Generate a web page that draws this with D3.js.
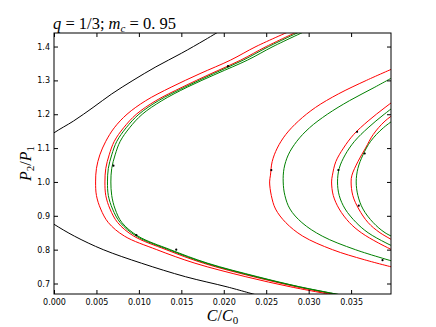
<!DOCTYPE html>
<html lang="en">
<head>
<meta charset="UTF-8">
<title>q = 1/3; m_c = 0.95</title>
<script src="https://d3js.org/d3.v7.min.js"></script>
<style>
  body { margin: 0; background: #fff; }
  svg { display: block; }
  .tick text { font-family: "DejaVu Sans", sans-serif; font-size: 8px; fill: #000; }
  .math { font-family: "Liberation Serif", "DejaVu Serif", serif; fill: #000; }
</style>
</head>
<body>
<svg id="chart" width="436" height="327"></svg>
<script>
// ---- data (P2/P1 vs C/C0) ----
const xTicks = [0, 0.005, 0.010, 0.015, 0.020, 0.025, 0.030, 0.035];
const yTicks = [0.7, 0.8, 0.9, 1.0, 1.1, 1.2, 1.3, 1.4];

// black curve, two arms (vertex lies left of C = 0)
const blackUpP = [1.11, 1.145, 1.18, 1.22, 1.26, 1.30, 1.34, 1.38, 1.42, 1.45];
const blackUpC = [-0.0018, 0.0000, 0.0023, 0.0046, 0.0068, 0.0093, 0.0120, 0.0150, 0.0178, 0.0198];
const blackLoP = [0.905, 0.875, 0.84, 0.80, 0.76, 0.72, 0.69, 0.665];
const blackLoC = [-0.0018, 0.0000, 0.0024, 0.0058, 0.0103, 0.0155, 0.0204, 0.0240];

// left group (vertex near C = 0.005 .. 0.007)
const leftP   = [1.45, 1.40, 1.36, 1.32, 1.28, 1.24, 1.20, 1.16, 1.12, 1.08, 1.04, 1.00, 0.96, 0.92, 0.88, 0.84, 0.80, 0.76, 0.72, 0.69, 0.665];
const leftR1C = [0.0282, 0.0238, 0.0208, 0.0172, 0.0138, 0.0108, 0.0086, 0.0071, 0.0061, 0.0054, 0.0050, 0.0049, 0.0050, 0.0055, 0.0064, 0.0083, 0.0121, 0.0166, 0.0226, 0.0279, 0.0332];
const leftR2C = [0.0292, 0.0250, 0.0220, 0.0185, 0.0151, 0.0120, 0.0097, 0.0082, 0.0071, 0.0065, 0.0061, 0.0060, 0.0061, 0.0066, 0.0075, 0.0094, 0.0132, 0.0176, 0.0235, 0.0286, 0.0337];
const leftG1C = [0.0295, 0.0253, 0.0223, 0.0188, 0.0154, 0.0123, 0.0100, 0.0085, 0.0074, 0.0068, 0.0064, 0.0063, 0.0064, 0.0069, 0.0078, 0.0097, 0.0135, 0.0179, 0.0238, 0.0289, 0.0340];
const leftG2C = [0.0300, 0.0258, 0.0228, 0.0192, 0.0157, 0.0127, 0.0104, 0.0089, 0.0078, 0.0072, 0.0068, 0.0067, 0.0068, 0.0072, 0.0080, 0.0099, 0.0137, 0.0181, 0.0240, 0.0290, 0.0341];

// middle pair
const midRP = [1.34, 1.30, 1.26, 1.22, 1.18, 1.14, 1.10, 1.06, 1.02, 1.00, 0.96, 0.92, 0.88, 0.84, 0.80, 0.77, 0.745];
const midRC = [0.0404, 0.0368, 0.0335, 0.0308, 0.0288, 0.0273, 0.0263, 0.0257, 0.0255, 0.0254, 0.0256, 0.0261, 0.0273, 0.0293, 0.0328, 0.0366, 0.0404];
const midGP = [1.32, 1.28, 1.24, 1.20, 1.16, 1.12, 1.08, 1.04, 1.00, 0.96, 0.92, 0.88, 0.84, 0.80, 0.76];
const midGC = [0.0407, 0.0378, 0.0348, 0.0322, 0.0301, 0.0286, 0.0276, 0.0271, 0.0270, 0.0272, 0.0278, 0.0292, 0.0316, 0.0355, 0.0407];

// right group
const rightR1P = [1.25, 1.22, 1.18, 1.14, 1.10, 1.06, 1.02, 1.00, 0.96, 0.92, 0.88, 0.85, 0.82, 0.79];
const rightR1C = [0.0406, 0.0390, 0.0370, 0.0353, 0.0341, 0.0332, 0.0328, 0.0327, 0.0329, 0.0336, 0.0348, 0.0362, 0.0382, 0.0406];
const rightG1P = [1.24, 1.20, 1.16, 1.12, 1.08, 1.04, 1.00, 0.96, 0.92, 0.88, 0.85, 0.82, 0.80];
const rightG1C = [0.0410, 0.0389, 0.0370, 0.0354, 0.0343, 0.0336, 0.0334, 0.0336, 0.0343, 0.0356, 0.0370, 0.0391, 0.0408];
const rightR2P = [1.22, 1.18, 1.14, 1.10, 1.06, 1.02, 1.00, 0.96, 0.92, 0.88, 0.85, 0.82];
const rightR2C = [0.0412, 0.0390, 0.0376, 0.0367, 0.0358, 0.0351, 0.0350, 0.0352, 0.0359, 0.0370, 0.0384, 0.0405];
const rightG2P = [1.20, 1.16, 1.12, 1.08, 1.04, 1.00, 0.96, 0.92, 0.88, 0.85, 0.83];
const rightG2C = [0.0410, 0.0388, 0.0373, 0.0364, 0.0358, 0.0356, 0.0358, 0.0364, 0.0376, 0.0390, 0.0406];

// small black markers on the curves
const dotC = [0.0070, 0.0097, 0.0144, 0.0205, 0.0256, 0.0335, 0.0357, 0.0366, 0.0359, 0.0387];
const dotP = [1.048, 0.843, 0.800, 1.342, 1.035, 1.035, 1.148, 1.084, 0.930, 0.769];

// ---- layout ----
const svg = d3.select("#chart");
const box = {left: 54, right: 391, top: 33, bottom: 294};

const x = d3.scaleLinear().domain([0, 0.0397]).range([box.left, box.right]);
const y = d3.scaleLinear().domain([0.669, 1.440]).range([box.bottom, box.top]);

svg.append("defs").append("clipPath").attr("id", "clip")
  .append("rect").attr("x", box.left).attr("y", box.top)
  .attr("width", box.right - box.left).attr("height", box.bottom - box.top);

const zip = (ps, cs) => ps.map((p, i) => ({p: p, c: cs[i]}));

const series = [
  {color: "#000000", pts: zip(blackUpP, blackUpC)},
  {color: "#000000", pts: zip(blackLoP, blackLoC)},
  {color: "#ff0000", pts: zip(leftP, leftR1C)},
  {color: "#ff0000", pts: zip(leftP, leftR2C)},
  {color: "#008000", pts: zip(leftP, leftG1C)},
  {color: "#008000", pts: zip(leftP, leftG2C)},
  {color: "#ff0000", pts: zip(midRP, midRC)},
  {color: "#008000", pts: zip(midGP, midGC)},
  {color: "#ff0000", pts: zip(rightR1P, rightR1C)},
  {color: "#008000", pts: zip(rightG1P, rightG1C)},
  {color: "#ff0000", pts: zip(rightR2P, rightR2C)},
  {color: "#008000", pts: zip(rightG2P, rightG2C)}
];

const line = d3.line()
  .x(d => x(d.c))
  .y(d => y(d.p))
  .curve(d3.curveCatmullRom.alpha(0.5));

const plot = svg.append("g").attr("clip-path", "url(#clip)");

plot.selectAll("path.curve")
  .data(series)
  .enter().append("path")
  .attr("class", "curve")
  .attr("d", d => line(d.pts))
  .attr("fill", "none")
  .attr("stroke", d => d.color)
  .attr("stroke-width", 1);

plot.selectAll("circle.dot")
  .data(zip(dotP, dotC))
  .enter().append("circle")
  .attr("class", "dot")
  .attr("cx", d => x(d.c))
  .attr("cy", d => y(d.p))
  .attr("r", 1.1)
  .attr("fill", "#000");

// ---- axes: ticks inward on all four sides ----
const fmtX = d3.format(".3f");
const fmtY = d3.format(".1f");

svg.append("g")
  .attr("transform", `translate(0,${box.bottom})`)
  .call(d3.axisBottom(x).tickValues(xTicks).tickFormat(fmtX).tickSize(-4).tickPadding(5));
svg.append("g")
  .attr("transform", `translate(0,${box.top})`)
  .call(d3.axisTop(x).tickValues(xTicks).tickFormat("").tickSize(-4));
svg.append("g")
  .attr("transform", `translate(${box.left},0)`)
  .call(d3.axisLeft(y).tickValues(yTicks).tickFormat(fmtY).tickSize(-4).tickPadding(4));
svg.append("g")
  .attr("transform", `translate(${box.right},0)`)
  .call(d3.axisRight(y).tickValues(yTicks).tickFormat("").tickSize(-4));

svg.selectAll(".domain").remove();
svg.selectAll(".tick line").attr("stroke", "#000");

svg.append("rect")
  .attr("x", box.left).attr("y", box.top)
  .attr("width", box.right - box.left).attr("height", box.bottom - box.top)
  .attr("fill", "none").attr("stroke", "#000").attr("stroke-width", 1);

// ---- title and axis labels ----
const title = svg.append("text").attr("class", "math")
  .attr("x", box.left - 1).attr("y", 29).attr("font-size", 16.5);
title.append("tspan").attr("font-style", "italic").text("q");
title.append("tspan").text(" = 1/3; ");
title.append("tspan").attr("font-style", "italic").text("m");
title.append("tspan").attr("font-style", "italic").attr("font-size", 11).attr("dy", 3).text("c");
title.append("tspan").attr("dy", -3).text(" = 0. 95");

const xl = svg.append("text").attr("class", "math")
  .attr("x", (box.left + box.right) / 2).attr("y", 321)
  .attr("text-anchor", "middle").attr("font-size", 16);
xl.append("tspan").attr("font-style", "italic").text("C");
xl.append("tspan").text("/");
xl.append("tspan").attr("font-style", "italic").text("C");
xl.append("tspan").attr("font-size", 11).attr("dy", 3).text("0");

const yl = svg.append("text").attr("class", "math")
  .attr("transform", `translate(31,${(box.top + box.bottom) / 2}) rotate(-90)`)
  .attr("text-anchor", "middle").attr("font-size", 16);
yl.append("tspan").attr("font-style", "italic").text("P");
yl.append("tspan").attr("font-size", 11).attr("dy", 3).text("2");
yl.append("tspan").attr("dy", -3).text("/");
yl.append("tspan").attr("font-style", "italic").text("P");
yl.append("tspan").attr("font-size", 11).attr("dy", 3).text("1");
</script>
</body>
</html>
